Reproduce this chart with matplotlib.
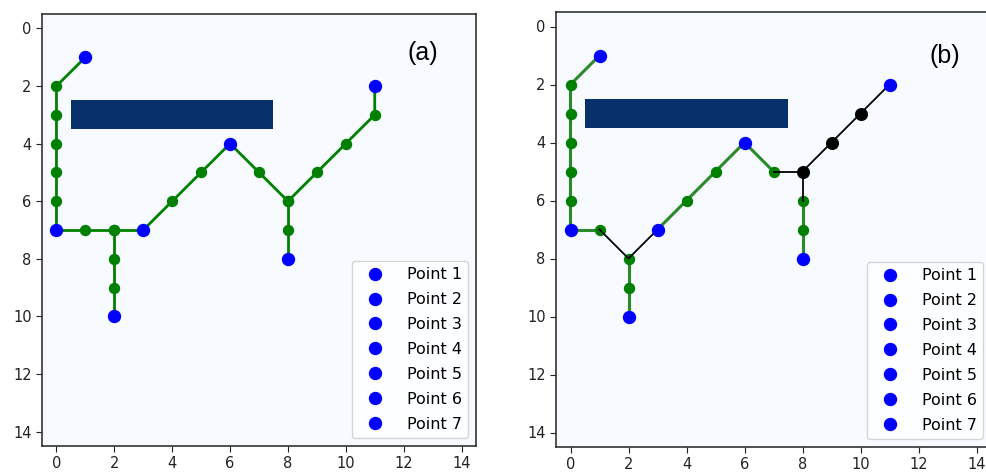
import matplotlib
matplotlib.use('Agg')
import matplotlib.pyplot as plt
import numpy as np

# grid and obstacle (row 3, cols 1..7)
grid_size = 15
obstacle_row = 3
obstacle_cols = [1, 2, 3, 4, 5, 6, 7]

# target points (x, y)
points_x = [1, 11, 6, 0, 3, 8, 2]
points_y = [1, 2, 4, 7, 7, 8, 10]
point_labels = ['Point 1', 'Point 2', 'Point 3', 'Point 4', 'Point 5', 'Point 6', 'Point 7']

# (a) green paths
paths_a = [
    ([1, 0, 0, 0, 0, 0, 0], [1, 2, 3, 4, 5, 6, 7]),
    ([0, 1, 2, 3], [7, 7, 7, 7]),
    ([2, 2, 2, 2], [7, 8, 9, 10]),
    ([3, 4, 5, 6, 7, 8, 9, 10, 11, 11], [7, 6, 5, 4, 5, 6, 5, 4, 3, 2]),
    ([8, 8, 8], [6, 7, 8]),
]

# (b) green paths
paths_b_green = [
    ([1, 0, 0, 0, 0, 0, 0], [1, 2, 3, 4, 5, 6, 7]),
    ([0, 1], [7, 7]),
    ([2, 2, 2], [8, 9, 10]),
    ([3, 4, 5, 6, 7], [7, 6, 5, 4, 5]),
    ([8, 8, 8], [6, 7, 8]),
]
# (b) black (new) paths
paths_b_black = [
    ([1, 2, 3], [7, 8, 7]),
    ([7, 8], [5, 5]),
    ([8, 8], [5, 6]),
    ([8, 9, 10, 11], [5, 4, 3, 2]),
]
black_nodes_x = [8, 9, 10]
black_nodes_y = [5, 4, 3]

occ = np.zeros((grid_size, grid_size))
occ[obstacle_row, obstacle_cols] = 1

fig = plt.figure(figsize=(9.86, 4.74), dpi=100)
W, H = 986, 474


def px_axes(left, top, right, bottom):
    return fig.add_axes([left / W, 1 - bottom / H, (right - left) / W, (bottom - top) / H])


ax_a = px_axes(42, 14, 476, 446)
ax_b = px_axes(556, 12, 991, 447)


def setup(ax, label, lx, ly):
    ax.imshow(occ, cmap='Blues', vmin=0, vmax=1, aspect='auto', interpolation='nearest')
    ax.set_xlim(-0.5, 14.5)
    ax.set_ylim(14.5, -0.5)
    ax.set_xticks(range(0, 15, 2))
    ax.set_yticks(range(0, 15, 2))
    ax.tick_params(labelsize=10.5, colors='#222222', length=4)
    for s in ax.spines.values():
        s.set_color('#333333')
        s.set_linewidth(1.2)
    ax.text(lx, ly, label, fontsize=18, family='Liberation Sans', ha='center', va='center')


setup(ax_a, '(a)', 12.65, 0.86)
for xs, ys in paths_a:
    ax_a.plot(xs, ys, color='green', lw=2, marker='o', ms=7.2, zorder=2)

setup(ax_b, '(b)', 12.9, 1.0)
for xs, ys in paths_b_green:
    ax_b.plot(xs, ys, color='#2a8a2a', lw=2.2, marker='o', ms=7.2, mfc='green', mec='green', zorder=2)
for xs, ys in paths_b_black:
    ax_b.plot(xs, ys, color='black', lw=1.3, zorder=3)
ax_b.plot(black_nodes_x, black_nodes_y, 'o', color='black', ms=8.4, zorder=4)

for ax in (ax_a, ax_b):
    for px, py, lab in zip(points_x, points_y, point_labels):
        ax.plot(px, py, 'o', color='blue', ms=8.6, label=lab, zorder=5)
    ax.legend(loc='lower right', fontsize=11.5, labelspacing=0.62, handletextpad=1.0,
              borderaxespad=0.5, framealpha=0.8)

fig.savefig('out.png', dpi=100)
